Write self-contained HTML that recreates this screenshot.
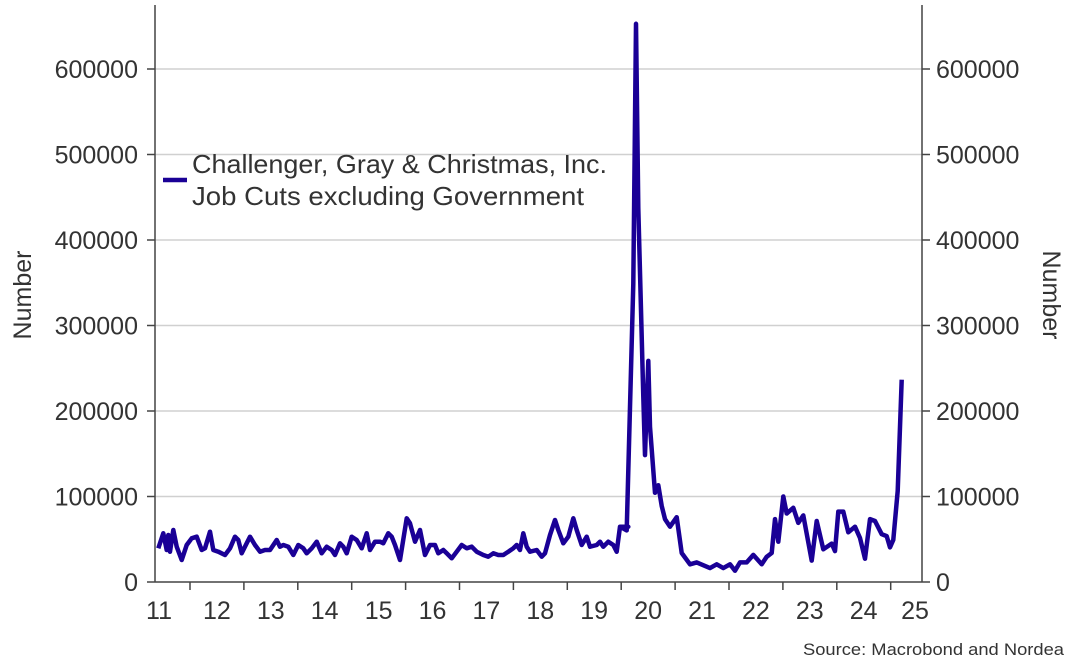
<!DOCTYPE html>
<html><head><meta charset="utf-8"><style>
body{margin:0;background:#fff;}
svg{display:block;font-family:"Liberation Sans",sans-serif;}
</style></head><body>
<svg id="s" width="1078" height="665" viewBox="0 0 1078 665">
<g stroke="#d0d0d0" stroke-width="1.5">
<line x1="155" x2="922" y1="69" y2="69"/><line x1="155" x2="922" y1="154.5" y2="154.5"/>
<line x1="155" x2="922" y1="240" y2="240"/><line x1="155" x2="922" y1="325.5" y2="325.5"/>
<line x1="155" x2="922" y1="411" y2="411"/><line x1="155" x2="922" y1="496.5" y2="496.5"/>
</g>
<g stroke="#444" stroke-width="1.5" fill="none">
<line x1="155" y1="5" x2="155" y2="582"/><line x1="922" y1="5" x2="922" y2="582"/>
<line x1="155" y1="582" x2="922" y2="582"/>
<g id="ticks"></g>
</g>
<g font-size="25" fill="#333" id="lab"></g>
<text transform="translate(31,295) rotate(-90)" text-anchor="middle" font-size="25" fill="#333">Number</text>
<text transform="translate(1043,295) rotate(90)" text-anchor="middle" font-size="25" fill="#333">Number</text>
<line x1="163" y1="180" x2="187" y2="180" stroke="#1a0096" stroke-width="4.5"/>
<text x="192" y="173" font-size="26" fill="#333" textLength="415" lengthAdjust="spacingAndGlyphs">Challenger, Gray &amp; Christmas, Inc.</text>
<text x="192" y="205" font-size="26" fill="#333" textLength="392" lengthAdjust="spacingAndGlyphs">Job Cuts excluding Government</text>
<text x="1064" y="655" text-anchor="end" font-size="17" fill="#333" textLength="261" lengthAdjust="spacingAndGlyphs">Source: Macrobond and Nordea</text>
<polyline id="ln" fill="none" stroke="#1a0096" stroke-width="4.5" stroke-linejoin="round"/>
</svg>
<script>
var ns="http://www.w3.org/2000/svg";
function el(t,a,p,txt){var e=document.createElementNS(ns,t);for(var k in a)e.setAttribute(k,a[k]);if(txt)e.textContent=txt;p.appendChild(e);return e;}
var tk=document.getElementById('ticks'),lab=document.getElementById('lab');
var vals=[0,100000,200000,300000,400000,500000,600000];
vals.forEach(function(v){var y=582-v/100000*85.5;
el('line',{x1:147,x2:155,y1:y,y2:y},tk);el('line',{x1:922,x2:930,y1:y,y2:y},tk);
el('text',{x:138,y:y+9,'text-anchor':'end'},lab,String(v));
el('text',{x:936,y:y+9},lab,String(v));});
for(var i=0;i<14;i++){var x=190+i*53.9;if(x<922)el('line',{x1:x,x2:x,y1:582,y2:590},tk);}
for(var yr=11;yr<=25;yr++){var cx=163+(yr-11)*53.9;if(yr==11)cx=159;if(yr==25)cx=915;
el('text',{x:cx,y:619,'text-anchor':'middle'},lab,String(yr));}
var z1=[25,205,40,160,50,210,55,165,60,215,70,150,80,200,95,240,110,195,125,175,140,170,155,210,165,205,180,155,190,210,205,215,225,225,240,205,255,170,265,180,275,220,290,190,300,170,315,195,330,215,345,210,360,210,380,180,390,200,400,195,415,200,430,225,445,195,460,205,470,220,485,205,500,185,515,220,530,200,545,210,555,225,570,190,580,200,590,220,605,170,620,180,635,205,650,160,660,210,675,185,690,185,700,190,715,160,725,170,735,195,750,240,770,115,780,130,795,185,810,150,825,225,840,195,855,195,865,220,880,210,890,220,905,235,920,215,935,195,950,205,965,200,980,215,1000,225,1015,230,1030,220,1045,225,1060,225,1075,215,1090,205,1100,195,1110,210,1120,160,1130,200,1140,215,1160,210,1175,230,1185,220,1200,165,1215,120,1225,150,1240,190,1255,170,1270,115,1280,150,1295,195,1310,170,1320,200,1340,195,1350,185,1360,200,1375,185,1390,195,1400,215,1410,140,1425,145,1435,140];
var z2=[60,1345,80,1355,100,700,108,10,115,500,130,1000,135,1155,145,905,150,1080,165,1255,175,1235,185,1290,195,1325,210,1345,230,1320,245,1415,270,1445,290,1440,330,1455,350,1445,370,1455,390,1445,405,1462,420,1440,440,1440,460,1420,485,1445,500,1425,515,1415,525,1325,535,1385,550,1265,560,1310,580,1295,595,1335,610,1315,635,1435,650,1330,670,1405,695,1390,705,1410,715,1305,730,1305,745,1360,765,1345,780,1375,795,1430,810,1325,825,1330,845,1365,860,1370,870,1400,880,1380,893,1250,905,955];
var pts=[];
for(var i=0;i<z1.length;i+=2)pts.push((150+z1[i]/3).toFixed(1)+','+(480+z1[i+1]/3).toFixed(1));
for(var i=0;i<z2.length;i+=2)pts.push((600+z2[i]/3).toFixed(1)+','+(20+z2[i+1]*0.3767).toFixed(1));
document.getElementById('ln').setAttribute('points',pts.join(' '));
</script>
</body></html>
